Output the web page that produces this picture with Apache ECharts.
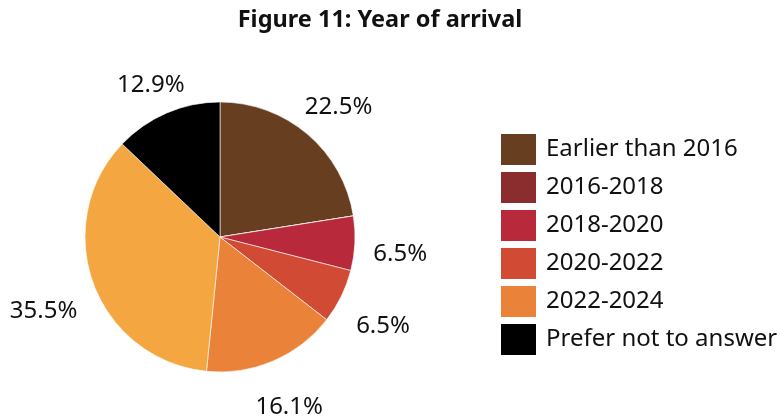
<!DOCTYPE html>
<html>
<head>
<meta charset="utf-8">
<script src="https://cdn.jsdelivr.net/npm/echarts@6/dist/echarts.min.js"></script>
<style>
  html, body { margin: 0; padding: 0; background: #ffffff; }
  #chart { width: 780px; height: 416px; }
</style>
</head>
<body>
<div id="chart"></div>
<script>
// Share of respondents by year of arrival (%)
const categories = ['Earlier than 2016', '2016-2018', '2018-2020', '2020-2022', '2022-2024', '2024', 'Prefer not to answer'];
const shares = [22.5, 0, 6.5, 6.5, 16.1, 35.5, 12.9];
const sliceColors = ['#673e20', '#8b2d2e', '#b8293b', '#d04a34', '#eb823a', '#f4a741', '#000000'];
const legendItems = ['Earlier than 2016', '2016-2018', '2018-2020', '2020-2022', '2022-2024', 'Prefer not to answer'];

const FONT = 'Noto Sans';
const CX = 220, CY = 237, R = 135;
const LABEL_GAP = 153;   // distance from centre to the nearest edge of a label box
const LABEL_DY = 9;

const total = shares.reduce((a, b) => a + b, 0);
const midAngles = [];
let acc = 0;
shares.forEach(v => {
  midAngles.push((acc + v / 2) / total * 2 * Math.PI);
  acc += v;
});

const chart = echarts.init(document.getElementById('chart'), null, { renderer: 'canvas' });
chart.setOption({
  animation: false,
  backgroundColor: '#ffffff',
  title: {
    text: 'Figure 11: Year of arrival',
    left: 380, top: 8, textAlign: 'center', padding: 0,
    textStyle: { fontFamily: FONT, fontSize: 23.5, fontWeight: 'bold', color: '#111111' }
  },
  legend: {
    data: legendItems,
    orient: 'vertical',
    left: 499, top: 132, padding: 0,
    itemWidth: 37, itemHeight: 33, itemGap: 3,
    icon: 'rect',
    textStyle: { fontFamily: FONT, fontSize: 24, color: '#111111', padding: [6, 0, 0, 4] },
    selectedMode: false
  },
  series: [{
    type: 'pie',
    center: [CX, CY],
    radius: [0, R],
    startAngle: 90,
    clockwise: true,
    avoidLabelOverlap: false,
    color: sliceColors,
    itemStyle: { borderColor: '#ffffff', borderWidth: 0.6 },
    label: {
      show: true,
      position: 'outside',
      fontFamily: FONT, fontSize: 24, color: '#111111',
      formatter: p => p.value > 0 ? p.value.toFixed(1) + '%' : ''
    },
    labelLine: { show: false },
    labelLayout: params => {
      const a = midAngles[params.dataIndex];
      const s = Math.sin(a), c = Math.cos(a);
      const hw = (params.labelRect ? params.labelRect.width : 60) / 2;
      const d = LABEL_GAP + hw * Math.abs(s) + 10 * Math.abs(c);
      return {
        x: CX + d * s,
        y: CY - d * c + LABEL_DY,
        align: 'center',
        verticalAlign: 'middle'
      };
    },
    data: categories.map((name, i) => ({ name, value: shares[i] }))
  }]
});
</script>
</body>
</html>
